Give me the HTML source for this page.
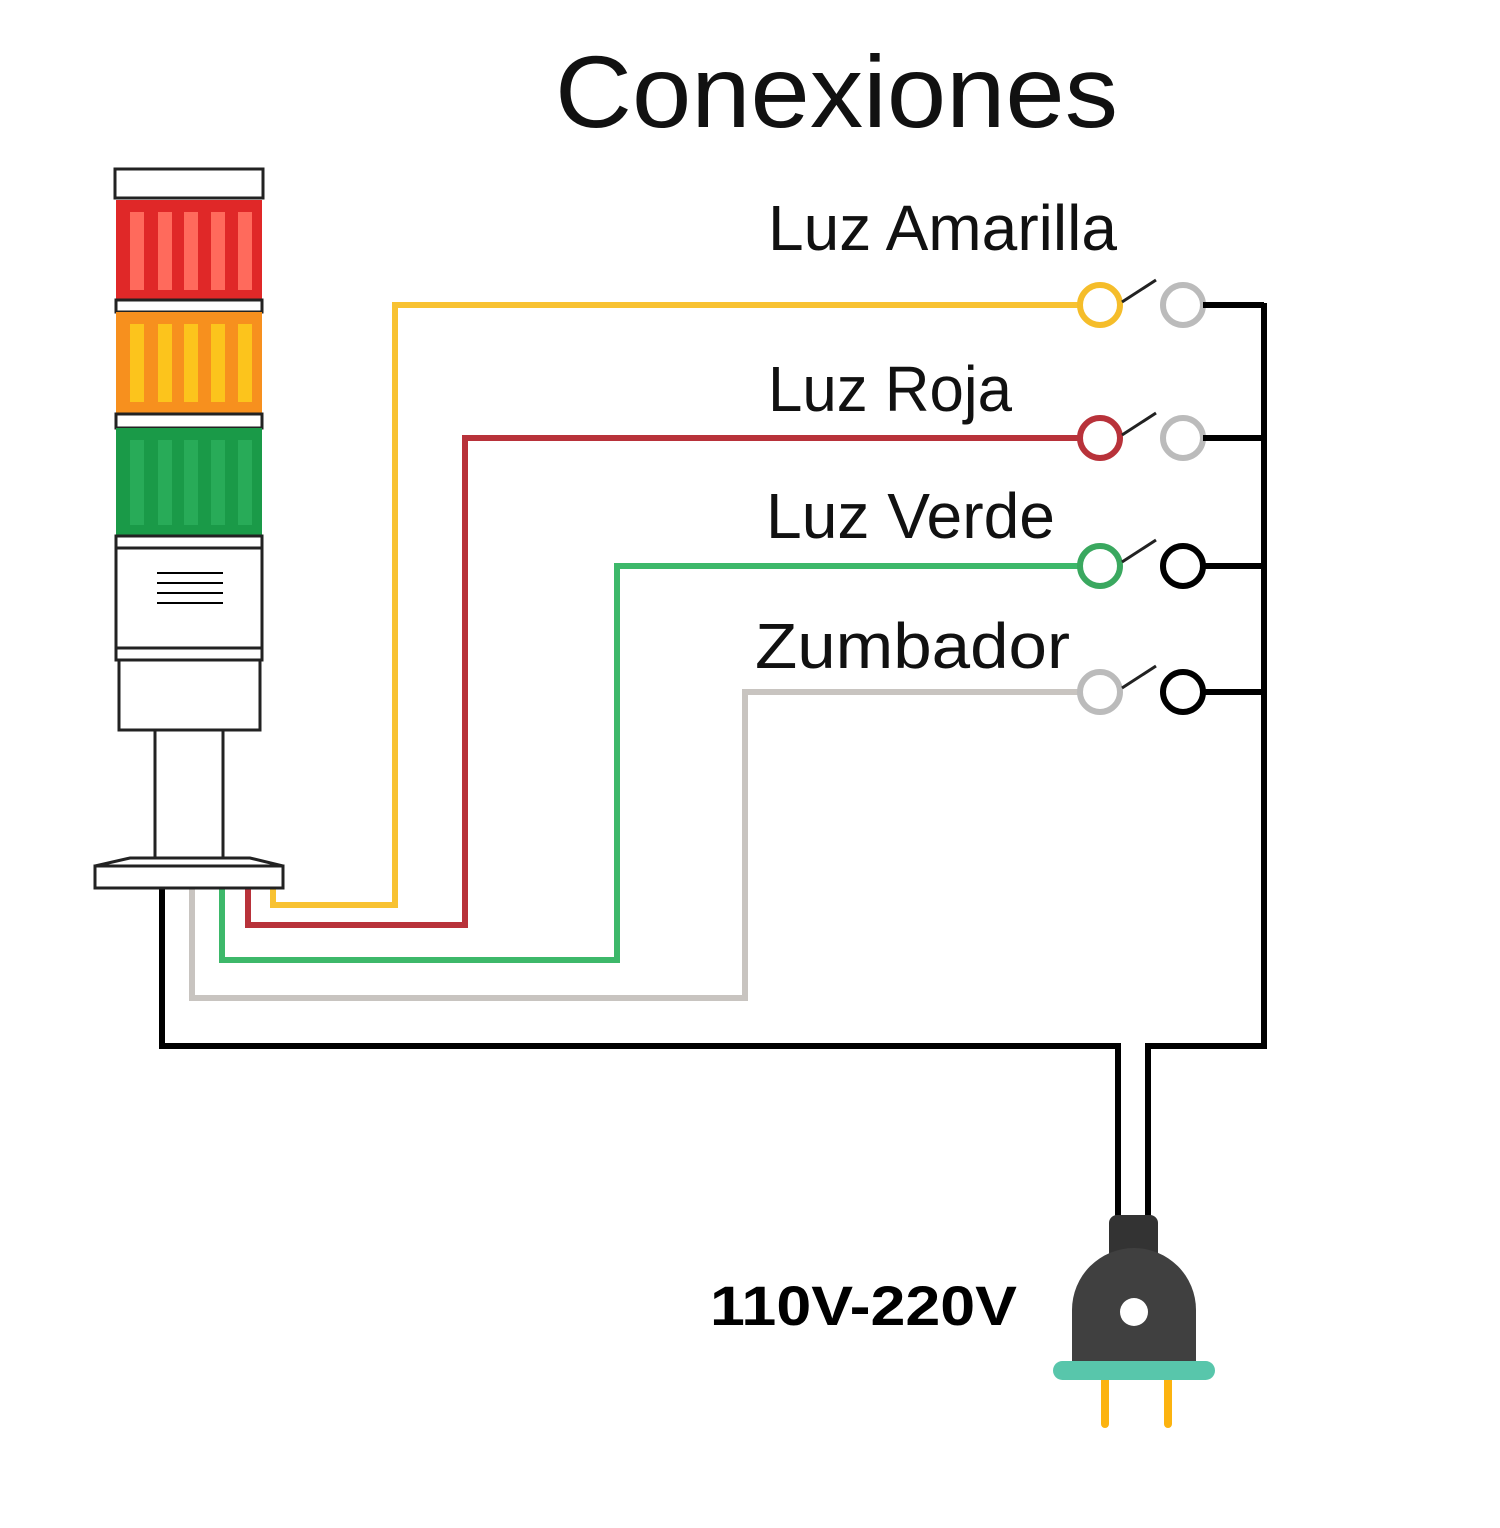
<!DOCTYPE html>
<html><head><meta charset="utf-8"><style>html,body{margin:0;padding:0;background:#fff}svg{display:block}</style></head>
<body>
<svg width="1500" height="1528" viewBox="0 0 1500 1528" xmlns="http://www.w3.org/2000/svg" font-family="Liberation Sans, sans-serif">
<rect width="1500" height="1528" fill="#fff"/>
<text x="555" y="127" font-size="102" textLength="563" lengthAdjust="spacingAndGlyphs" fill="#111">Conexiones</text>
<text x="768" y="250" font-size="64" textLength="349" lengthAdjust="spacingAndGlyphs" fill="#111">Luz Amarilla</text>
<text x="768" y="411" font-size="64" textLength="244" lengthAdjust="spacingAndGlyphs" fill="#111">Luz Roja</text>
<text x="766" y="538" font-size="64" textLength="289" lengthAdjust="spacingAndGlyphs" fill="#111">Luz Verde</text>
<text x="755" y="668" font-size="64" textLength="315" lengthAdjust="spacingAndGlyphs" fill="#111">Zumbador</text>
<text x="710" y="1325" font-size="56" font-weight="bold" textLength="307" lengthAdjust="spacingAndGlyphs" fill="#000">110V-220V</text>

<!-- wires -->
<g fill="none" stroke-width="6" stroke-linejoin="miter">
<polyline points="273,888 273,905 395,905 395,305 1080,305" stroke="#f8c232"/>
<polyline points="248,888 248,925 465,925 465,438 1080,438" stroke="#b8323a"/>
<polyline points="222,888 222,960 617,960 617,566 1080,566" stroke="#3db86a"/>
<polyline points="192,888 192,998 745,998 745,692 1080,692" stroke="#c8c4c0"/>
<polyline points="162,888 162,1046 1118,1046 1118,1218" stroke="#000"/>
<polyline points="1148,1218 1148,1046 1264,1046 1264,303" stroke="#000"/>
</g>
<!-- switches -->
<g stroke-width="6" fill="none">
<circle cx="1100" cy="305" r="20" stroke="#f5bd2a"/>
<circle cx="1183" cy="305" r="20" stroke="#bbb"/>
<circle cx="1100" cy="438" r="20" stroke="#b8323a"/>
<circle cx="1183" cy="438" r="20" stroke="#bbb"/>
<circle cx="1100" cy="566" r="20" stroke="#3aa85f"/>
<circle cx="1183" cy="566" r="20" stroke="#000"/>
<circle cx="1100" cy="692" r="20" stroke="#bbb"/>
<circle cx="1183" cy="692" r="20" stroke="#000"/>
</g>
<g stroke="#222" stroke-width="3">
<line x1="1122" y1="302" x2="1156" y2="280"/>
<line x1="1122" y1="435" x2="1156" y2="413"/>
<line x1="1122" y1="562" x2="1156" y2="540"/>
<line x1="1122" y1="688" x2="1156" y2="666"/>
</g>
<g stroke="#000" stroke-width="6">
<line x1="1203" y1="305" x2="1264" y2="305"/>
<line x1="1203" y1="438" x2="1264" y2="438"/>
<line x1="1203" y1="566" x2="1264" y2="566"/>
<line x1="1203" y1="692" x2="1264" y2="692"/>
</g>

<!-- tower -->
<g stroke="#222" stroke-width="3">
<rect x="115" y="169" width="148" height="29" fill="#fff"/>
<rect x="116" y="200" width="146" height="100" fill="#e02828" stroke="none"/>
<rect x="116" y="300" width="146" height="12" fill="#fff"/>
<rect x="116" y="312" width="146" height="101" fill="#f7901e" stroke="none"/>
<rect x="116" y="414" width="146" height="14" fill="#fff"/>
<rect x="116" y="428" width="146" height="107" fill="#1a9a48" stroke="none"/>
<rect x="116" y="536" width="146" height="12" fill="#fff"/>
<rect x="116" y="548" width="146" height="100" fill="#fff"/>
<rect x="116" y="648" width="146" height="12" fill="#fff"/>
<rect x="119" y="660" width="141" height="70" fill="#fff"/>
<rect x="155" y="730" width="68" height="128" fill="#fff"/>
<polygon points="130,858 250,858 283,866 95,866" fill="#fff"/>
<rect x="95" y="866" width="188" height="22" fill="#fff"/>
</g>
<g fill="#ff6a5c">
<rect x="130" y="212" width="14" height="78"/><rect x="158" y="212" width="14" height="78"/><rect x="184" y="212" width="14" height="78"/><rect x="211" y="212" width="14" height="78"/><rect x="238" y="212" width="14" height="78"/>
</g>
<g fill="#fcc41c">
<rect x="130" y="324" width="14" height="78"/><rect x="158" y="324" width="14" height="78"/><rect x="184" y="324" width="14" height="78"/><rect x="211" y="324" width="14" height="78"/><rect x="238" y="324" width="14" height="78"/>
</g>
<g fill="#28ab58">
<rect x="130" y="440" width="14" height="85"/><rect x="158" y="440" width="14" height="85"/><rect x="184" y="440" width="14" height="85"/><rect x="211" y="440" width="14" height="85"/><rect x="238" y="440" width="14" height="85"/>
</g>
<g stroke="#000" stroke-width="2">
<line x1="157" y1="573" x2="223" y2="573"/><line x1="157" y1="583" x2="223" y2="583"/><line x1="157" y1="593" x2="223" y2="593"/><line x1="157" y1="603" x2="223" y2="603"/>
</g>

<!-- plug -->
<rect x="1109" y="1215" width="49" height="50" rx="8" fill="#333"/>
<path d="M1072,1362 L1072,1310 A62,62 0 0 1 1196,1310 L1196,1362 Z" fill="#404040"/>
<circle cx="1134" cy="1312" r="14" fill="#fff"/>
<rect x="1101" y="1375" width="8" height="53" rx="4" fill="#fcb30f"/>
<rect x="1164" y="1375" width="8" height="53" rx="4" fill="#fcb30f"/>
<rect x="1053" y="1361" width="162" height="19" rx="9.5" fill="#58c6ab"/>
</svg>
</body></html>
